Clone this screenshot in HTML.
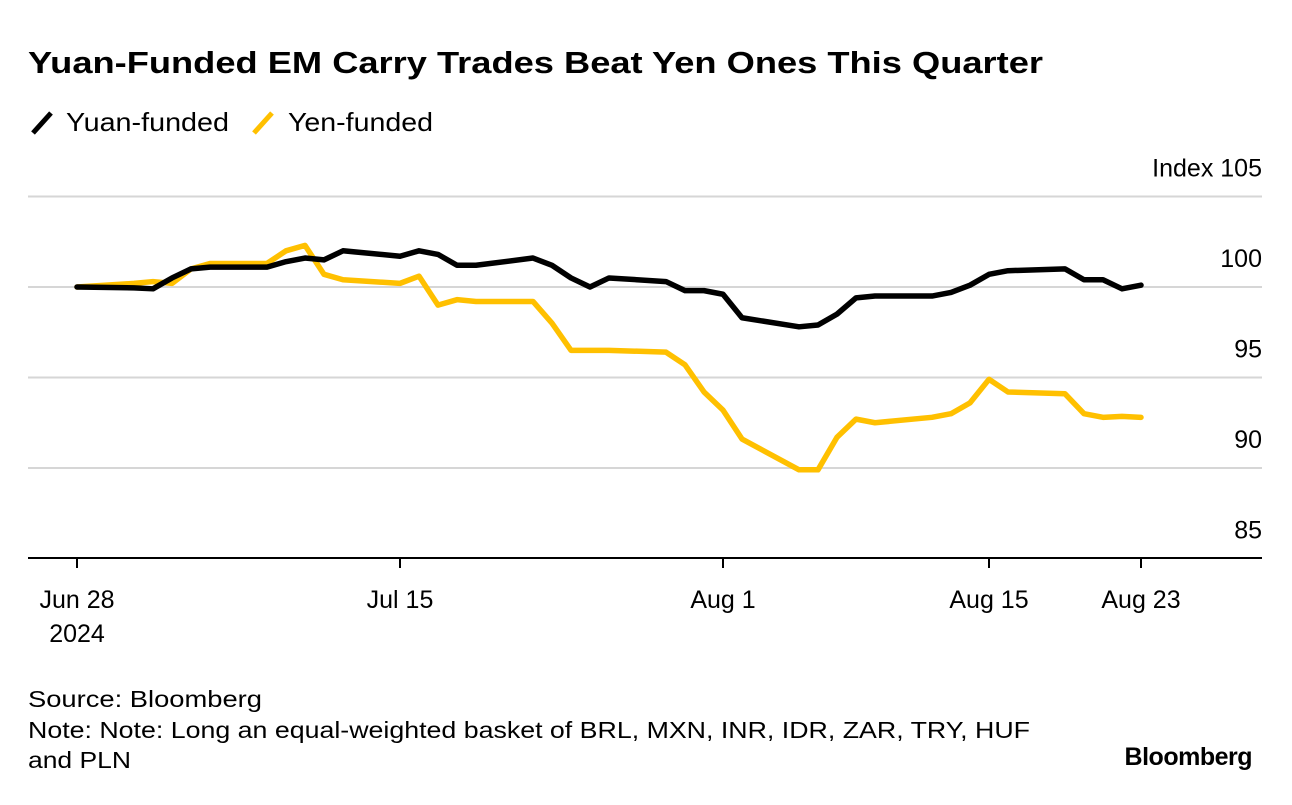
<!DOCTYPE html>
<html><head><meta charset="utf-8"><style>
body{margin:0;background:#fff;font-family:"Liberation Sans",sans-serif;}
svg text{font-family:"Liberation Sans",sans-serif;}
</style></head><body>
<svg width="1292" height="800">
<text x="28" y="73" font-size="31" font-weight="bold" fill="#000" textLength="1015" lengthAdjust="spacingAndGlyphs">Yuan-Funded EM Carry Trades Beat Yen Ones This Quarter</text>
<g>
<line x1="33" y1="133" x2="51" y2="113" stroke="#000" stroke-width="5"/>
<text x="66" y="131" font-size="26" textLength="163" lengthAdjust="spacingAndGlyphs">Yuan-funded</text>
<line x1="254" y1="133" x2="272" y2="113" stroke="#FFC000" stroke-width="5"/>
<text x="288" y="131" font-size="26" textLength="145" lengthAdjust="spacingAndGlyphs">Yen-funded</text>
</g>
<g id="grid"></g><g id="lines"></g><g id="xax"></g>
<text x="28" y="707" font-size="23" textLength="234" lengthAdjust="spacingAndGlyphs">Source: Bloomberg</text>
<text x="28" y="738" font-size="23" textLength="1002" lengthAdjust="spacingAndGlyphs">Note: Note: Long an equal-weighted basket of BRL, MXN, INR, IDR, ZAR, TRY, HUF</text>
<text x="28" y="768" font-size="23" textLength="103" lengthAdjust="spacingAndGlyphs">and PLN</text>
<text x="1252" y="765" font-size="25" font-weight="bold" text-anchor="end" letter-spacing="-0.5">Bloomberg</text>
</svg>
<script>
const days=[0,3,4,5,6,7,10,11,12,13,14,17,18,19,20,21,24,25,26,27,28,31,32,33,34,35,38,39,40,41,42,45,46,47,48,49,52,53,54,55,56];
const yuan=[100,99.95,99.9,100.5,101,101.1,101.1,101.4,101.6,101.5,102,101.7,102,101.8,101.2,101.2,101.6,101.2,100.5,100,100.5,100.3,99.8,99.8,99.6,98.3,97.8,97.9,98.5,99.4,99.5,99.5,99.7,100.1,100.7,100.9,101,100.4,100.4,99.9,100.1];
const yen=[100,100.2,100.3,100.2,101,101.3,101.3,102,102.3,100.7,100.4,100.2,100.6,99,99.3,99.2,99.2,98,96.5,96.5,96.5,96.4,95.7,94.2,93.2,91.6,89.9,89.9,91.7,92.7,92.5,92.8,93,93.6,94.9,94.2,94.1,93,92.8,92.85,92.8];
const yTicks=[85,90,95,100,105];
const xTickDays=[0,17,34,48,56];
const xTickLabels=["Jun 28","Jul 15","Aug 1","Aug 15","Aug 23"];
const NS="http://www.w3.org/2000/svg";
const X=d=>77+19*d, Y=v=>287-(v-100)*18.1;
function mk(t,a,p){const e=document.createElementNS(NS,t);for(const k in a)e.setAttribute(k,a[k]);p.appendChild(e);return e;}
const grid=document.getElementById('grid');
yTicks.forEach(v=>{
 if(v>85){const l=mk('line',{x1:28,x2:1262,y1:Y(v),y2:Y(v),stroke:'#d6d6d6','stroke-width':2},grid);
 
 }
 const t=mk('text',{x:1262,y:Y(v)-20,'font-size':25,'text-anchor':'end'},grid);
 t.textContent=(v===105?'Index ':'')+v;
 
 
});
const ax=document.getElementById('xax');
const al=mk('line',{x1:28,x2:1262,y1:558,y2:558,stroke:'#000','stroke-width':2},ax);


xTickDays.forEach((d,i)=>{
 const tk=mk('line',{x1:X(d),x2:X(d),y1:558,y2:568,stroke:'#000','stroke-width':2},ax);
 
 
 const t=mk('text',{x:X(d),y:608,'font-size':25,'text-anchor':'middle'},ax);
 t.textContent=xTickLabels[i];
 
 
});
const yr=mk('text',{x:X(0),y:642,'font-size':25,'text-anchor':'middle'},ax);
yr.textContent='2024';


const lg=document.getElementById('lines');
[[yen,'#FFC000','yen-funded-line'],[yuan,'#000','yuan-funded-line']].forEach(([s,c,n])=>{
 const p=mk('polyline',{points:s.map((v,i)=>X(days[i])+','+Y(v)).join(' '),fill:'none',stroke:c,'stroke-width':5.5,'stroke-linejoin':'round','stroke-linecap':'round'},lg);
 
 
});
</script>
</body></html>
